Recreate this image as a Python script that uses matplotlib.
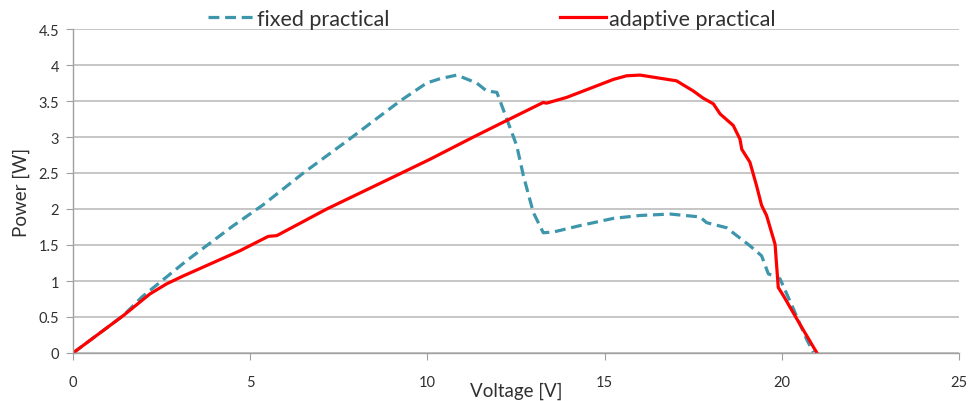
import matplotlib
matplotlib.use("Agg")
import matplotlib.pyplot as plt

# Fixed practical curve (voltage V, power W)
fixed_v = [0.0, 1.42, 1.95, 3.2, 4.5, 5.37, 6.5, 7.8, 8.66, 9.23, 9.98, 10.36, 10.83,
           11.39, 11.67, 11.96, 12.24, 12.52, 12.71, 12.99, 13.27, 13.55, 14.31,
           15.25, 16.0, 16.85, 17.69, 17.88, 18.44, 19.10, 19.43, 19.62, 19.95,
           20.33, 20.70, 20.89]
fixed_p = [0.0, 0.52, 0.78, 1.28, 1.76, 2.06, 2.50, 2.97, 3.29, 3.50, 3.75, 3.81,
           3.86, 3.75, 3.64, 3.62, 3.25, 2.88, 2.46, 1.95, 1.67, 1.68, 1.77, 1.87,
           1.91, 1.93, 1.89, 1.81, 1.74, 1.49, 1.35, 1.10, 1.03, 0.61, 0.19, 0.01]

# Adaptive practical curve (voltage V, power W)
adapt_v = [0.0, 1.42, 2.17, 2.64, 3.11, 4.71, 5.51, 5.75, 7.16, 9.23, 10.07, 11.30,
           12.24, 13.27, 13.36, 13.93, 15.25, 15.62, 16.0, 17.03, 17.50, 17.78,
           18.07, 18.26, 18.63, 18.82, 18.87, 19.10, 19.29, 19.43, 19.57, 19.81,
           19.90, 20.04, 20.51, 20.98]
adapt_p = [0.0, 0.52, 0.82, 0.96, 1.07, 1.42, 1.62, 1.63, 2.00, 2.49, 2.69, 3.0,
           3.23, 3.48, 3.47, 3.55, 3.80, 3.85, 3.86, 3.78, 3.64, 3.54, 3.46, 3.32,
           3.16, 2.97, 2.83, 2.65, 2.32, 2.05, 1.91, 1.51, 0.91, 0.80, 0.40, 0.01]

x_ticks = [0, 5, 10, 15, 20, 25]
y_ticks = [0, 0.5, 1, 1.5, 2, 2.5, 3, 3.5, 4, 4.5]
y_tick_labels = ["0", "0.5", "1", "1.5", "2", "2.5", "3", "3.5", "4", "4.5"]

plt.rcParams["font.family"] = ["Lato", "DejaVu Sans"]

fig = plt.figure(figsize=(9.68, 4.02), dpi=100)
ax = fig.add_axes([73 / 968, 48 / 402, 886 / 968, 324 / 402])

grid_col = "#bcbcbc"
ax.set_xlim(0, 25)
ax.set_ylim(0, 4.5)
ax.set_yticks(y_ticks)
ax.set_yticklabels(y_tick_labels)
ax.set_xticks(x_ticks)
ax.yaxis.grid(True, color=grid_col, linewidth=1.2)
ax.set_axisbelow(True)
for s in ("top", "right"):
    ax.spines[s].set_visible(False)
for s in ("left", "bottom"):
    ax.spines[s].set_color("#a0a0a0")
    ax.spines[s].set_linewidth(1.0)
ax.tick_params(axis="both", direction="out", color="#a0a0a0", length=5,
               labelsize=10.5, labelcolor="#303030")
ax.tick_params(axis="x", pad=10.5)
ax.tick_params(axis="y", pad=5)

ax.plot(fixed_v, fixed_p, color="#3d96ab", linewidth=2.3, linestyle=(0, (3.4, 1.8)),
        label="fixed practical")
ax.plot(adapt_v, adapt_p, color="#ff0000", linewidth=2.3, label="adaptive practical",
        solid_joinstyle="round")

ax.set_xlabel("Voltage [V]", fontsize=13.5, color="#303030")
ax.set_ylabel("Power [W]", fontsize=13.5, color="#303030")
ax.xaxis.set_label_coords(0.5, -0.088)
ax.yaxis.set_label_coords(-0.048, 0.5)

leg = ax.legend(loc="center left", bbox_to_anchor=(0.152, 1.031), ncol=2, frameon=False,
                fontsize=15.5, handlelength=2.15, handletextpad=0.15, columnspacing=7.9,
                borderaxespad=0, borderpad=0)
for t in leg.get_texts():
    t.set_color("#303030")

fig.savefig("out.png", dpi=100)
